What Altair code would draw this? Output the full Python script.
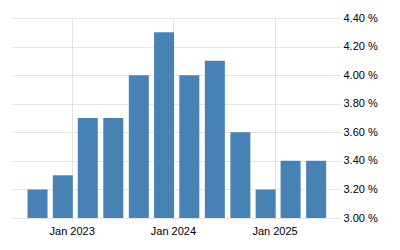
import altair as alt
import pandas as pd

dates = ["2022-08-31", "2022-11-30", "2023-02-28", "2023-05-31",
         "2023-08-31", "2023-11-30", "2024-02-29", "2024-05-31",
         "2024-08-31", "2024-11-30", "2025-02-28", "2025-05-31"]
values = [3.2, 3.3, 3.7, 3.7, 4.0, 4.3, 4.0, 4.1, 3.6, 3.2, 3.4, 3.4]
y_ticks = [3.0, 3.2, 3.4, 3.6, 3.8, 4.0, 4.2, 4.4]
x_ticks = ["2023-01-01", "2024-01-01", "2025-01-01"]

df = pd.DataFrame({"date": pd.to_datetime(dates), "value": values})

grid = dict(gridColor="#c8c8c8", gridDash=[1, 1], gridWidth=1)

chart = alt.Chart(df).mark_bar(color="#4682B4", size=20, clip=True).encode(
    x=alt.X("date:T",
            scale=alt.Scale(domain=["2022-05-31", "2025-08-25"], padding=0),
            axis=alt.Axis(title=None, values=[pd.Timestamp(d).isoformat() for d in x_ticks],
                          format="%b %Y", labelFont="Liberation Sans", labelFontSize=11,
                          labelColor="#000000", domain=False, tickSize=4, tickColor="#c8c8c8",
                          tickDash=[1, 1], labelPadding=3, labelFlush=False, **grid)),
    y=alt.Y("value:Q",
            scale=alt.Scale(domain=[3.0, 4.4], zero=False, nice=False, padding=0),
            axis=alt.Axis(title=None, orient="right", values=y_ticks,
                          labelExpr="format(datum.value, '.2f') + ' %'",
                          labelFont="Liberation Sans", labelFontSize=11, labelColor="#000000",
                          domain=False, ticks=False, labelPadding=3, labelAlign="left",
                          labelFlush=False, **grid)),
).properties(
    width=328, height=200,
    autosize=alt.AutoSizeParams(type="none"),
    padding={"left": 12, "top": 18, "right": 60, "bottom": 32},
).configure_view(stroke=None)

chart.save("out.html", embed_options={"renderer": "svg", "actions": False})
